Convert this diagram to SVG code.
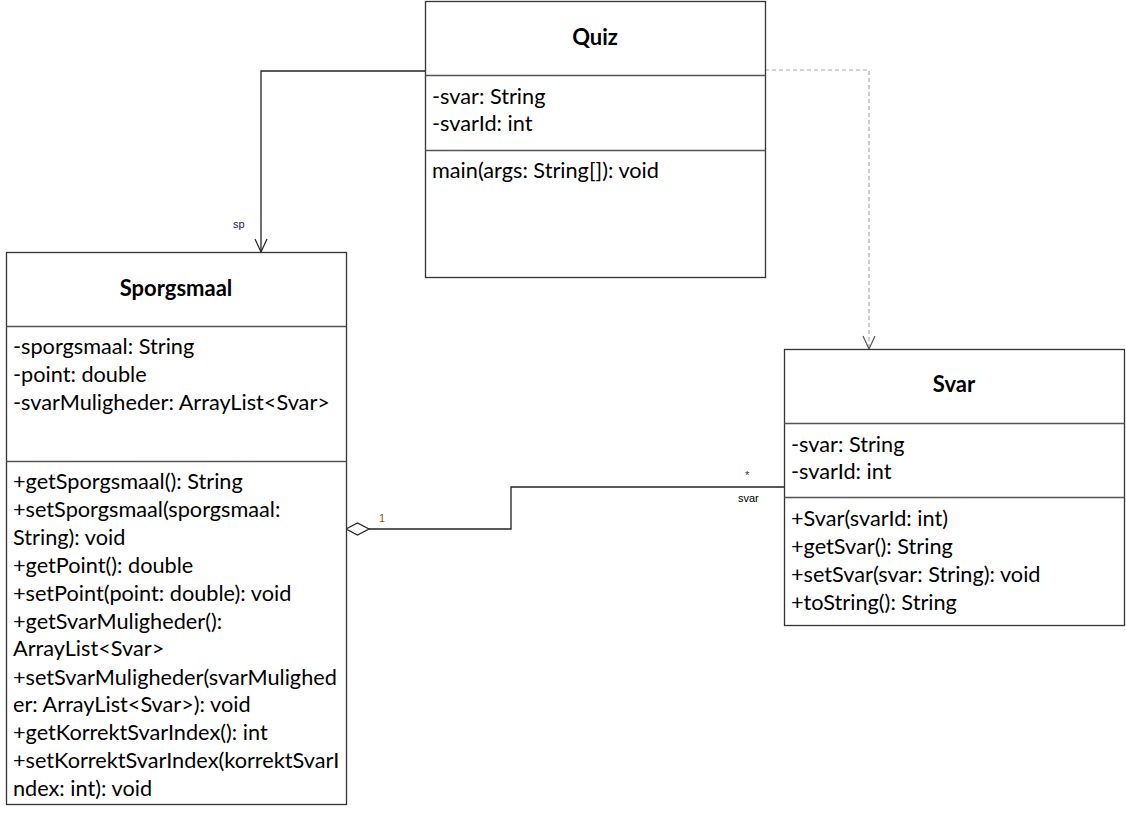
<svg xmlns="http://www.w3.org/2000/svg" width="1126" height="815" viewBox="0 0 1126 815">
<defs>
<style>
.box{fill:#fff;stroke:#333;stroke-width:1.3}
.sep{stroke:#555;stroke-width:1.3}
.t{font-family:Lato,"Liberation Sans",sans-serif;font-size:21.7px;fill:#000}
.ti{font-family:Lato,"Liberation Sans",sans-serif;font-size:22px;font-weight:bold;fill:#000;text-anchor:middle}
.lbl{font-family:"Liberation Sans",sans-serif;font-size:11px}
.edge{fill:none;stroke:#222;stroke-width:1.3}
.dash{fill:none;stroke:#aaa;stroke-width:1.2;stroke-dasharray:4,3}
</style>
<marker id="open" markerWidth="14" markerHeight="14" refX="7" refY="14" orient="0" markerUnits="userSpaceOnUse">
<path d="M1,1 L7,14 L13,1" fill="none" stroke="#222" stroke-width="1.2"/>
</marker>
<marker id="openg" markerWidth="14" markerHeight="14" refX="7" refY="14" orient="0" markerUnits="userSpaceOnUse">
<path d="M1,1 L7,14 L13,1" fill="none" stroke="#555" stroke-width="1.2"/>
</marker>
</defs>
<rect width="1126" height="815" fill="#fff"/>
<g id="connectors">
<path class="edge" d="M425,71 H261 V252" marker-end="url(#open)"/>
<text class="lbl" x="233" y="228" fill="#202060">sp</text>
<path class="dash" d="M765,70 H869 V349" marker-end="url(#openg)"/>
<path class="edge" d="M369,529 H511 V487 H784"/>
<path d="M346,529 L357.5,523 L369,529 L357.5,535 Z" fill="#fff" stroke="#222" stroke-width="1.2"/>
<text class="lbl" x="379" y="522" fill="#8a5a00">1</text>
<text class="lbl" x="745" y="479" fill="#203080">*</text>
<text class="lbl" x="738" y="502" fill="#000">svar</text>
</g>
<g id="quiz">
<rect class="box" x="425.5" y="1.5" width="340" height="276"/>
<line class="sep" x1="425.5" y1="75.5" x2="765.5" y2="75.5"/>
<line class="sep" x1="425.5" y1="150.5" x2="765.5" y2="150.5"/>
<text class="ti" x="595" y="45">Quiz</text>
<text class="t" x="432" y="104">-svar: String</text>
<text class="t" x="432" y="131">-svarId: int</text>
<text class="t" x="432" y="178">main(args: String[]): void</text>
</g>
<g id="sporgsmaal">
<rect class="box" x="6.5" y="252.5" width="340" height="552"/>
<line class="sep" x1="6.5" y1="326.5" x2="346.5" y2="326.5"/>
<line class="sep" x1="6.5" y1="461.5" x2="346.5" y2="461.5"/>
<text class="ti" x="176" y="296">Sporgsmaal</text>
<text class="t" x="13" y="354">-sporgsmaal: String</text>
<text class="t" x="13" y="382">-point: double</text>
<text class="t" x="13" y="410">-svarMuligheder: ArrayList&lt;Svar&gt;</text>
<text class="t" x="13" y="489">+getSporgsmaal(): String</text>
<text class="t" x="13" y="517">+setSporgsmaal(sporgsmaal:</text>
<text class="t" x="13" y="545">String): void</text>
<text class="t" x="13" y="573">+getPoint(): double</text>
<text class="t" x="13" y="601">+setPoint(point: double): void</text>
<text class="t" x="13" y="629">+getSvarMuligheder():</text>
<text class="t" x="13" y="656">ArrayList&lt;Svar&gt;</text>
<text class="t" x="13" y="685">+setSvarMuligheder(svarMulighed</text>
<text class="t" x="13" y="712">er: ArrayList&lt;Svar&gt;): void</text>
<text class="t" x="13" y="740">+getKorrektSvarIndex(): int</text>
<text class="t" x="13" y="768">+setKorrektSvarIndex(korrektSvarI</text>
<text class="t" x="13" y="796">ndex: int): void</text>
</g>
<g id="svar">
<rect class="box" x="784.5" y="349.5" width="340" height="276"/>
<line class="sep" x1="784.5" y1="423.5" x2="1124.5" y2="423.5"/>
<line class="sep" x1="784.5" y1="497.5" x2="1124.5" y2="497.5"/>
<text class="ti" x="954" y="392">Svar</text>
<text class="t" x="791" y="452">-svar: String</text>
<text class="t" x="791" y="479">-svarId: int</text>
<text class="t" x="791" y="526">+Svar(svarId: int)</text>
<text class="t" x="791" y="554">+getSvar(): String</text>
<text class="t" x="791" y="582">+setSvar(svar: String): void</text>
<text class="t" x="791" y="610">+toString(): String</text>
</g>
</svg>
